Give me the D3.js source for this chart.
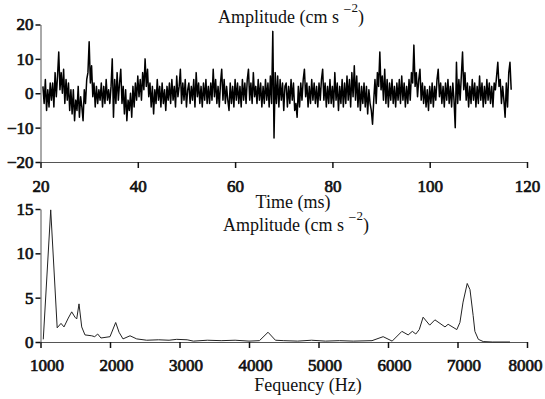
<!DOCTYPE html>
<html>
<head>
<meta charset="utf-8">
<script src="https://cdn.jsdelivr.net/npm/d3@7"></script>
<style>
  html, body { margin: 0; padding: 0; background: #fff; }
  svg { display: block; font-family: "Liberation Serif", "Times New Roman", serif; }
  .tick line { stroke: #111; stroke-width: 1.5; }
  .domain { stroke: #555; stroke-width: 1; }
  .title { font-size: 18px; fill: #111; }
</style>
</head>
<body>
<div id="chart"></div>
<script>
// --- top panel: acceleration trace, sampled every 0.25 ms from 20.5 ms ---
const accelStartMs = 20.5;
const accelStepMs = 0.25;
const accel = [
  2, -3, 4, -5, 1, -4, 3, -2,
  3, -4, 6, -1, 5, 12, 1, 6,
  0, 7, -3, 4, -2, 3, -5, 1,
  -6, 1, -8, -2, -5, 2, -7, -1,
  -4, -8, 1, -3, 4, 6, 15, 3,
  8, -1, 3, -4, 2, -3, 1, -2,
  3, -4, 2, -3, 4, -2, 1, -3,
  2, 10, -7, 4, -3, 6, -2, 3,
  7, -3, 2, -6, 1, -8, -2, -5,
  0, -7, 2, -4, 3, -2, 5, -1,
  4, -2, 6, 1, 10, 2, 7, -1,
  3, -4, 2, -6, 1, -3, 4, -2,
  2, -4, 3, -3, 1, -5, 2, -2,
  3, -3, 4, -2, 2, -4, 5, -1,
  2, 7, -3, 3, -2, 4, -4, 1,
  3, -3, 2, -2, 4, -4, 6, -1,
  3, -3, 2, -4, 3, -2, 4, -3,
  2, -3, 3, -2, 7, -1, 4, -3,
  2, -4, 3, 7, -2, 4, -3, 2,
  -2, -5, 3, -3, 2, -4, 4, -2,
  3, -3, 2, -4, 4, -2, 3, -3,
  4, 7, -2, 3, -3, 6, -1, 2,
  -3, 4, -2, 3, -4, 2, -3, 4,
  -2, 3, -4, 5, -3, 18, -13, 6,
  -3, 5, -4, 4, -2, 3, -5, 2,
  3, -4, 2, -3, 4, -2, 3, -5,
  -3, -7, 2, -4, 3, -2, 4, 7,
  -1, 3, -4, 2, -3, 4, -2, 3,
  -3, 2, -4, 3, -2, 4, 7, -2,
  3, -4, 2, -3, 4, -3, 2, -4,
  6, -2, 3, -5, 2, -3, 4, -4,
  3, -3, 5, -2, 4, -4, 6, -1,
  8, -2, 5, -4, 3, -5, 2, -3,
  3, -4, 2, -6, 1, -3, -5, -9,
  -2, 4, -3, 6, 2, 12, 1, 5,
  -2, 7, -3, 4, -4, 3, -2, 4,
  -3, 2, -4, 3, -2, 4, -3, 5,
  -2, 3, -4, 2, -3, 4, -2, 6,
  3, 14, 2, 6, -1, 4, 7, -2,
  3, -3, 2, -4, 1, -5, 2, -3,
  3, -4, 2, -2, 4, 7, -1, 3,
  -3, 2, -4, 3, -2, 4, -3, 2,
  -4, 3, -2, -10, 9, -3, 4, -2,
  5, 12, 1, 6, -2, 3, -4, 2,
  -3, 4, -2, 3, -4, 2, -3, 5,
  -2, 3, -4, 2, -3, 4, -2, 3,
  -3, 2, -4, 3, 1, 5, 9, 2,
  4, -3, 2, -2, -7, 3, -4, 6,
  9, 1
];
const timeTicks = [20, 40, 60, 80, 100, 120];
const accelTicks = [-20, -10, 0, 10, 20];

// --- bottom panel: spectrum ---
const freqHz = [1040, 1147, 1240, 1295, 1338, 1400, 1449, 1496, 1521, 1554, 1593, 1640, 1737, 1780, 1823, 1870,
  2000, 2082, 2130, 2187, 2288, 2384, 2528, 2700, 2850, 2960, 3110, 3200, 3400, 3600, 3800, 4000, 4150, 4274,
  4380, 4500, 4700, 4900, 5100, 5300, 5500, 5770, 5930, 6060, 6200, 6290, 6350, 6400, 6450, 6505, 6600, 6675,
  6820, 6865, 6990, 7035, 7080, 7140, 7180, 7225, 7250, 7300, 7370, 7500, 7755];
const specAmp = [0.3, 14.9, 1.6, 2.1, 1.7, 2.7, 3.4, 2.8, 2.6, 4.3, 1.7, 0.8, 0.7, 0.6, 0.9, 0.45,
  0.6, 2.2, 1.1, 0.35, 0.7, 0.35, 0.2, 0.25, 0.2, 0.3, 0.25, 0.1, 0.2, 0.15, 0.2, 0.1, 0.15, 1.1,
  0.2, 0.15, 0.1, 0.2, 0.1, 0.15, 0.1, 0.15, 0.6, 0.1, 1.2, 0.8, 1.2, 0.9, 1.4, 2.8, 1.9, 2.5,
  1.7, 2.0, 1.4, 2.2, 4.5, 6.6, 5.9, 3.0, 1.2, 0.3, 0.05, 0.0, 0.0];
const freqTicks = [1000, 2000, 3000, 4000, 5000, 6000, 7000, 8000];
const specTicks = [0, 5, 10, 15];

const width = 545, height = 399;
const serif = "'Liberation Serif', 'Times New Roman', serif";
const svg = d3.select("#chart").append("svg")
  .attr("width", width)
  .attr("height", height);

// d3.axis puts sans-serif 10px on the group, so reset it here
// (bold face not available -> thicken the regular serif with a stroke)
function styleAxis(g) {
  g.attr("font-family", serif).attr("font-size", 17);
  g.selectAll(".tick text")
    .attr("font-family", serif)
    .attr("font-size", 17)
    .attr("font-weight", "normal")
    .attr("fill", "#111")
    .attr("stroke", "#111")
    .attr("stroke-width", 0.7);
}

// title with superscript  (cm s^-2)
function ampTitle(x, y) {
  const t = svg.append("text").attr("class", "title")
    .attr("x", x).attr("y", y).attr("text-anchor", "middle");
  t.append("tspan").text("Amplitude (cm s ");
  t.append("tspan").attr("dy", -9).attr("font-size", 14).text("\u2212");
  t.append("tspan").attr("dy", -2).attr("font-size", 13).text("2");
  t.append("tspan").attr("dy", 11).text(")");
}

// ---- top panel ----
const xT = d3.scaleLinear().domain([20, 120]).range([40.5, 527]);
const yT = d3.scaleLinear().domain([-20, 20]).range([162, 24.5]);

svg.append("g")
  .attr("transform", `translate(0,${yT(-20)})`)
  .call(d3.axisBottom(xT).tickValues(timeTicks).tickSize(6).tickSizeOuter(0).tickPadding(12))
  .call(styleAxis)
  .call(g => g.selectAll(".tick text").attr("dy", "0.71em"));

svg.append("g")
  .attr("transform", `translate(${xT(20)},0)`)
  .call(d3.axisLeft(yT).tickValues(accelTicks).tickSize(5).tickSizeOuter(0).tickPadding(2))
  .call(styleAxis);

const traceLine = d3.line()
  .x((d, i) => xT(accelStartMs + i * accelStepMs))
  .y(d => yT(d));

svg.append("path")
  .datum(accel)
  .attr("d", traceLine)
  .attr("fill", "none")
  .attr("stroke", "#000")
  .attr("stroke-width", 1.5)
  .attr("stroke-linejoin", "round");

ampTitle(291, 23);
svg.append("text").attr("class", "title")
  .attr("x", 293).attr("y", 208).attr("text-anchor", "middle")
  .text("Time (ms)");

// ---- bottom panel ----
const xB = d3.scaleLinear().domain([1000, 8000]).range([40.5, 527]);
const yB = d3.scaleLinear().domain([0, 15]).range([342, 209]);

svg.append("g")
  .attr("transform", `translate(0,${yB(0)})`)
  .call(d3.axisBottom(xB).tickValues(freqTicks).tickSize(6).tickSizeOuter(0).tickPadding(11).tickFormat(d3.format("d")))
  .call(styleAxis)
  .call(g => g.selectAll(".tick text").attr("dx", d => d === 8000 ? -2 : 6));

svg.append("g")
  .attr("transform", `translate(${xB(1000)},0)`)
  .call(d3.axisLeft(yB).tickValues(specTicks).tickSize(5).tickSizeOuter(0).tickPadding(2))
  .call(styleAxis);

const specLine = d3.line()
  .x((d, i) => xB(freqHz[i]))
  .y(d => yB(d));

svg.append("path")
  .datum(specAmp)
  .attr("d", specLine)
  .attr("fill", "none")
  .attr("stroke", "#222")
  .attr("stroke-width", 1);

ampTitle(296, 231);
svg.append("text").attr("class", "title")
  .attr("x", 308).attr("y", 391).attr("text-anchor", "middle")
  .text("Fequency (Hz)");
</script>
</body>
</html>
